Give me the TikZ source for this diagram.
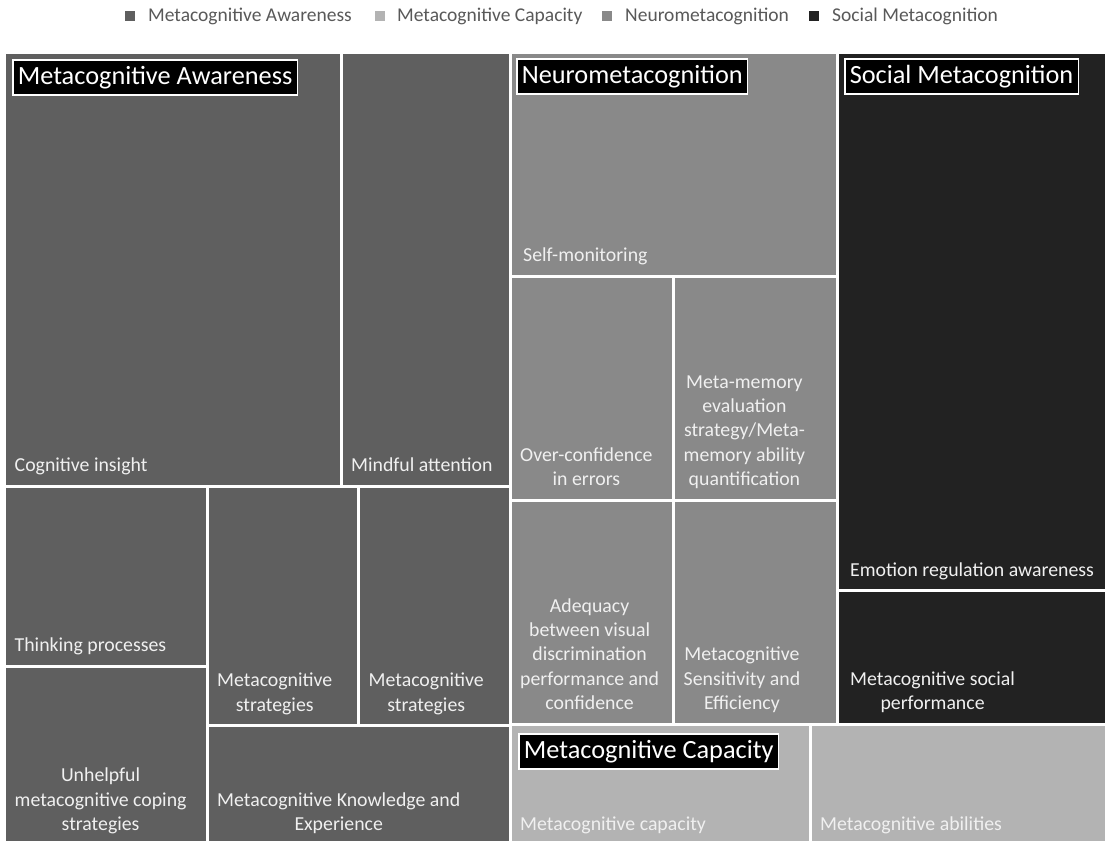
\documentclass[tikz,border=0pt]{standalone}
\usepackage{fontspec}
\setmainfont{Carlito}
\definecolor{aware}{HTML}{5F5F5F}
\definecolor{capac}{HTML}{B3B3B3}
\definecolor{neuro}{HTML}{898989}
\definecolor{social}{HTML}{222222}
\definecolor{keygray}{HTML}{595959}

\begin{document}
\begin{tikzpicture}[x=1pt, y=-1pt,
		tile/.style={draw=white, line width=3pt},
		lbl/.style={anchor=south west, inner xsep=10pt, inner ysep=7pt, align=center,
			text=white!94!black, font=\fontsize{19.8}{24.3}\selectfont, execute at end node=\strut},
		head/.style={anchor=north west, fill=black, draw=white, line width=1.6pt, text=white,
			inner xsep=5pt, inner ysep=1pt, minimum height=35pt, font=\fontsize{26.3}{30}\selectfont},
		key/.style={fill=#1, minimum size=10.5pt, inner sep=0pt},
		keytext/.style={anchor=west, inner sep=0pt, text=keygray, font=\fontsize{19.5}{21}\selectfont}
		]
	\useasboundingbox[fill=white] (0,0) rectangle (1109,841);

	% legend
	\node [key=aware] (k1) at (130,16) {};
	\node [keytext] (t1) at (148,16) {Metacognitive Awareness};
	\node [key=capac] (k2) at (380,16) {};
	\node [keytext] (t2) at (397,16) {Metacognitive Capacity};
	\node [key=neuro] (k3) at (607,16) {};
	\node [keytext] (t3) at (625,16) {Neurometacognition};
	\node [key=social] (k4) at (814,16) {};
	\node [keytext] (t4) at (832,16) {Social Metacognition};

	% Metacognitive Awareness
	\path [tile, fill=aware] (4.5,52.5) rectangle (341,486);
	\path [tile, fill=aware] (341,52.5) rectangle (510,486);
	\path [tile, fill=aware] (4.5,486) rectangle (207,666);
	\path [tile, fill=aware] (207,486) rectangle (358.5,725.5);
	\path [tile, fill=aware] (358.5,486) rectangle (510,725.5);
	\path [tile, fill=aware] (4.5,666) rectangle (207,845);
	\path [tile, fill=aware] (207,725.5) rectangle (510,845);
	\node [lbl] (ci) at (4.5,486) {Cognitive insight};
	\node [lbl] (ma) at (341,486) {Mindful attention};
	\node [lbl] (tp) at (4.5,666) {Thinking processes};
	\node [lbl] (ms1) at (207,725.5) {Metacognitive\\strategies};
	\node [lbl] (ms2) at (358.5,725.5) {Metacognitive\\strategies};
	\node [lbl] (uc) at (4.5,845) {Unhelpful\\metacognitive coping\\strategies};
	\node [lbl] (mk) at (207,845) {Metacognitive Knowledge and\\Experience};

	% Neurometacognition
	\path [tile, fill=neuro] (510,52.5) rectangle (837,276);
	\path [tile, fill=neuro] (510,276) rectangle (673.5,500);
	\path [tile, fill=neuro] (673.5,276) rectangle (837,500);
	\path [tile, fill=neuro] (510,500) rectangle (673.5,724);
	\path [tile, fill=neuro] (673.5,500) rectangle (837,724);
	\node [lbl, xshift=3pt] (sm) at (510,276) {Self-monitoring};
	\node [lbl] (oc) at (510,500) {Over-confidence\\in errors};
	\node [lbl] (mm) at (673.5,500) {Meta-memory\\evaluation\\strategy/Meta-\\memory ability\\quantification};
	\node [lbl] (ad) at (510,724) {Adequacy\\between visual\\discrimination\\performance and\\confidence};
	\node [lbl] (se) at (673.5,724) {Metacognitive\\Sensitivity and\\Efficiency};

	% Social Metacognition
	\path [tile, fill=social] (837,52.5) rectangle (1106.5,590.5);
	\path [tile, fill=social] (837,590.5) rectangle (1106.5,724);
	\node [lbl, xshift=3pt] (er) at (837,590.5) {Emotion regulation awareness};
	\node [lbl, xshift=3pt] (sp) at (837,724) {Metacognitive social\\performance};

	% Metacognitive Capacity
	\path [tile, fill=capac] (510,724) rectangle (810,845);
	\path [tile, fill=capac] (810,724) rectangle (1106.5,845);
	\node [lbl] (cc) at (510,845) {Metacognitive capacity};
	\node [lbl] (ca) at (810,845) {Metacognitive abilities};

	% group headers
	\node [head] (hAware) at (12,59) {Metacognitive Awareness};
	\node [head] (hNeuro) at (516,58) {Neurometacognition};
	\node [head] (hSocial) at (844,58) {Social Metacognition};
	\node [head] (hCapac) at (518,733) {Metacognitive Capacity};
\end{tikzpicture}
\end{document}
